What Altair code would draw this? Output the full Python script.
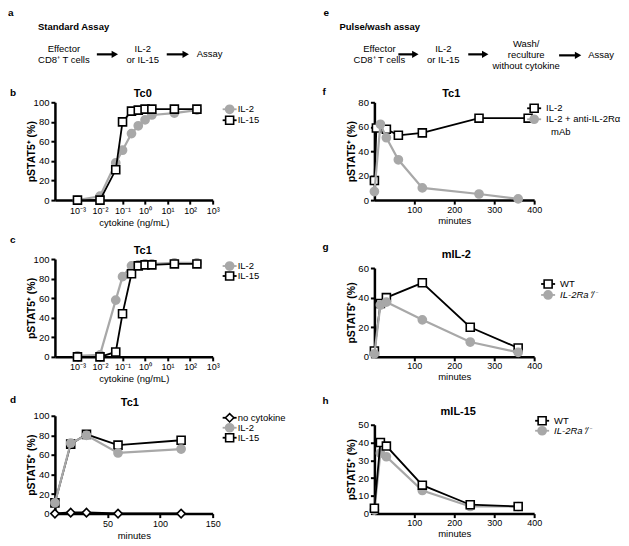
import altair as alt
import pandas as pd

FONT = "Liberation Sans"
GRAY = "#a8a8a8"

# ---------------- data ----------------
conc = [0.001, 0.01, 0.05, 0.1, 0.25, 0.5, 1, 2, 20, 200]
tc0_il2 = [0, 4, 38, 51, 68, 76, 82, 87, 89, 92]
tc0_il15 = [0, 0, 31, 80, 91, 92, 93, 93, 93, 93]
tc1_il2 = [1, 2, 58, 82, 93, 94, 95, 95, 96, 96]
tc1_il15 = [0, 0, 5, 44, 85, 93, 94, 94, 95, 95]

d_minutes = [0, 15, 30, 60, 120]
d_none = [0, 1, 1, 0, 0]
d_il2 = [11, 72, 80, 62, 66]
d_il15 = [11, 71, 81, 70, 75]

f_il2_min = [0, 5, 30, 60, 120, 262, 385]
f_il2 = [16, 59, 58, 53, 55, 67, 67]
f_mab_min = [0, 15, 30, 60, 120, 262, 360]
f_mab = [7, 62, 51, 33, 10, 5, 1]

gh_min = [0, 15, 30, 120, 240, 360]
g_wt = [4, 36, 40, 50, 20, 6]
g_het = [2, 35, 37, 25, 10, 3]
h_wt = [3, 40, 38, 16, 5, 4]
h_het = [2, 34, 32, 13, 4, 4]

decades = [0.001, 0.01, 0.1, 1, 10, 100, 1000]
min_ticks_d = [50, 100, 150]
min_ticks_r = [100, 200, 300, 400]

labels_cyt = ["IL-2", "IL-15"]
labels_d = ["no cytokine", "IL-2", "IL-15"]
labels_f = ["IL-2", "IL-2 + anti-IL-2Rα", "mAb"]
labels_gh = ["WT", "IL-2Ra⁺/⁻"]
ytitle = "pSTAT5⁺ (%)"

W_L, H_L = 158, 98
W_R, H_F, H_GH = 160, 98, 89

TXT = 9.5      # diagram / legend text
TTL = 11       # panel titles
LET = 10       # panel letters

LOG_LABEL = "'10' + (['⁻³','⁻²','⁻¹','⁰','¹','²','³'][round(log(datum.value)/LN10) + 3])"


# ---------------- helpers ----------------
def T(s, x, y, size=TXT, weight="normal", align="left", style="normal"):
    return alt.Chart().mark_text(
        text=s, align=align, baseline="middle", fontSize=size, fontWeight=weight,
        fontStyle=style, font=FONT, color="black"
    ).encode(x=alt.value(x), y=alt.value(y))


def arrow(x1, x2, y):
    shaft = alt.Chart().mark_rule(color="black", strokeWidth=2.2).encode(
        x=alt.value(x1), x2=alt.value(x2 - 5), y=alt.value(y))
    head = alt.Chart().mark_point(shape="triangle-right", filled=True, color="black",
                                  size=55, opacity=1).encode(
        x=alt.value(x2 - 4), y=alt.value(y))
    return [shaft, head]


def white_rule(x1, x2, y):
    return alt.Chart().mark_rule(color="white", strokeWidth=0.5).encode(
        x=alt.value(x1), x2=alt.value(x2), y=alt.value(y))


def point_mark(kind):
    if kind == "gray":
        return dict(shape="circle", filled=True, fill=GRAY, stroke=GRAY, size=60, opacity=1)
    if kind == "square":
        return dict(shape="square", filled=True, fill="white", stroke="black",
                    strokeWidth=1.6, size=64, opacity=1)
    return dict(shape="diamond", filled=True, fill="white", stroke="black",
                strokeWidth=1.6, size=70, opacity=1)


def series(xs, ys, kind, X, Y):
    df = pd.DataFrame({"x": xs, "y": ys})
    base = alt.Chart(df).encode(x=X, y=Y)
    if kind == "gray":
        line = base.mark_line(color=GRAY, strokeWidth=2.2)
    elif kind == "diamond":
        line = base.mark_line(color="black", strokeWidth=2.2)
    else:
        line = base.mark_line(color="black", strokeWidth=1.8)
    return [line, base.mark_point(**point_mark(kind))]


def legend_item(kind, x, y, label, tx, italic=False):
    col = GRAY if kind == "gray" else "black"
    stub = alt.Chart().mark_rule(color=col, strokeWidth=1.8).encode(
        x=alt.value(x - 7), x2=alt.value(x + 7), y=alt.value(y))
    pt = alt.Chart().mark_point(**point_mark(kind)).encode(x=alt.value(x), y=alt.value(y))
    return [stub, pt, T(label, tx, y, style="italic" if italic else "normal")]


def x_axis(title, values, label_expr=None, title_pad=2, label_pad=2):
    kw = dict(title=title, values=values, labelFlush=False, labelOverlap=False,
              titlePadding=title_pad, labelPadding=label_pad, titleFontWeight="normal",
              titleFontSize=9.5, labelFontSize=9)
    if label_expr:
        kw["labelExpr"] = label_expr
    return alt.Axis(**kw)


def y_axis(values, h):
    return alt.Axis(title=ytitle, values=values, titleX=-20, titleY=h / 2,
                    titleBaseline="alphabetic", titleFontWeight="bold", titleFontSize=10.5,
                    labelFontSize=9.5, labelPadding=2)


# ---------------- left column ----------------
X_log = alt.X("x:Q", scale=alt.Scale(type="log", domain=[1e-4, 1e3]),
              axis=x_axis("cytokine (ng/mL)", decades, LOG_LABEL))
Y100_L = alt.Y("y:Q", scale=alt.Scale(domain=[0, 100], nice=False),
               axis=y_axis([0, 20, 40, 60, 80, 100], H_L))

b_layers = [white_rule(0, 250, -92)]
b_layers += [T("a", -47, -89, size=LET, weight="bold"),
             T("Standard Assay", -17, -75, weight="bold"),
             T("Effector", 9, -53, align="center"),
             T("CD8⁺ T cells", 9, -42, align="center"),
             T("IL-2", 88, -53, align="center"),
             T("or IL-15", 88, -42, align="center"),
             T("Assay", 155, -48, align="center")]
b_layers += arrow(42, 64, -48) + arrow(112, 135, -48)
b_layers += series(conc, tc0_il2, "gray", X_log, Y100_L)
b_layers += series(conc, tc0_il15, "square", X_log, Y100_L)
b_layers += legend_item("gray", 175, 7, labels_cyt[0], 183)
b_layers += legend_item("square", 175, 18, labels_cyt[1], 183)
b_layers += [T("Tc0", 88, -8, size=TTL, weight="bold", align="center"),
             T("b", -45, -9, size=LET, weight="bold")]
panel_b = alt.layer(*b_layers).properties(width=W_L, height=H_L)

c_layers = []
c_layers += series(conc, tc1_il2, "gray", X_log, Y100_L)
c_layers += series(conc, tc1_il15, "square", X_log, Y100_L)
c_layers += legend_item("gray", 175, 7, labels_cyt[0], 183)
c_layers += legend_item("square", 175, 17, labels_cyt[1], 183)
c_layers += [T("Tc1", 88, -8, size=TTL, weight="bold", align="center"),
             T("c", -45, -19, size=LET, weight="bold")]
panel_c = alt.layer(*c_layers).properties(width=W_L, height=H_L)

X_d = alt.X("x:Q", scale=alt.Scale(domain=[0, 150], nice=False),
            axis=x_axis("minutes", min_ticks_d))
d_layers = []
d_layers += series(d_minutes, d_none, "diamond", X_d, Y100_L)
d_layers += series(d_minutes, d_il15, "square", X_d, Y100_L)
d_layers += series(d_minutes, d_il2, "gray", X_d, Y100_L)
d_layers += legend_item("diamond", 175, 2, labels_d[0], 183)
d_layers += legend_item("gray", 175, 12, labels_d[1], 183)
d_layers += legend_item("square", 175, 22, labels_d[2], 183)
d_layers += [T("Tc1", 75, -13, size=TTL, weight="bold", align="center"),
             T("d", -45, -16, size=LET, weight="bold")]
panel_d = alt.layer(*d_layers).properties(width=W_L, height=H_L)

left = alt.vconcat(panel_b, panel_c, panel_d, spacing=59, bounds="flush")

# ---------------- right column ----------------
X_r = alt.X("x:Q", scale=alt.Scale(domain=[0, 400], nice=False),
            axis=x_axis("minutes", min_ticks_r, title_pad=1, label_pad=1))
Y80 = alt.Y("y:Q", scale=alt.Scale(domain=[0, 80], nice=False),
            axis=y_axis([0, 20, 40, 60, 80], H_F))
Y60 = alt.Y("y:Q", scale=alt.Scale(domain=[0, 60], nice=False),
            axis=y_axis([0, 20, 40, 60], H_GH))
Y50 = alt.Y("y:Q", scale=alt.Scale(domain=[0, 50], nice=False),
            axis=y_axis([0, 10, 20, 30, 40, 50], H_GH))

f_layers = [white_rule(-60, 0, -92)]
f_layers += [T("e", -51, -89, size=LET, weight="bold"),
             T("Pulse/wash assay", -35, -75, weight="bold"),
             T("Effector", 5, -53, align="center"),
             T("CD8⁺ T cells", 5, -42, align="center"),
             T("IL-2", 69, -53, align="center"),
             T("or IL-15", 69, -42, align="center"),
             T("Wash/", 152, -58, align="center"),
             T("reculture", 152, -47, align="center"),
             T("without cytokine", 152, -36, align="center"),
             T("Assay", 227, -47, align="center")]
f_layers += arrow(24, 45, -48) + arrow(94, 115, -48) + arrow(185, 208, -47)
f_layers += series(f_il2_min, f_il2, "square", X_r, Y80)
f_layers += series(f_mab_min, f_mab, "gray", X_r, Y80)
f_layers += legend_item("square", 160, 6, labels_f[0], 172)
f_layers += legend_item("gray", 160, 17, labels_f[1], 172)
f_layers += [T(labels_f[2], 177, 30),
             T("Tc1", 77, -8, size=TTL, weight="bold", align="center"),
             T("f", -52, -10, size=LET, weight="bold")]
panel_f = alt.layer(*f_layers).properties(width=W_R, height=H_F)

g_layers = []
g_layers += series(gh_min, g_wt, "square", X_r, Y60)
g_layers += series(gh_min, g_het, "gray", X_r, Y60)
g_layers += legend_item("square", 174, 16, labels_gh[0], 186)
g_layers += legend_item("gray", 174, 27, labels_gh[1], 186, italic=True)
g_layers += [T("mIL-2", 82, -13, size=TTL, weight="bold", align="center"),
             T("g", -52, -21, size=LET, weight="bold")]
panel_g = alt.layer(*g_layers).properties(width=W_R, height=H_GH)

h_layers = []
h_layers += series(gh_min, h_het, "gray", X_r, Y50)
h_layers += series(gh_min, h_wt, "square", X_r, Y50)
h_layers += legend_item("square", 168, -4, labels_gh[0], 180)
h_layers += legend_item("gray", 168, 6, labels_gh[1], 180, italic=True)
h_layers += [T("mIL-15", 84, -13, size=TTL, weight="bold", align="center"),
             T("h", -52, -24, size=LET, weight="bold")]
panel_h = alt.layer(*h_layers).properties(width=W_R, height=H_GH)

right = alt.vconcat(panel_f, panel_g, panel_h, spacing=68, bounds="flush")

chart = alt.hconcat(left, right, spacing=8, bounds="full").properties(
    padding=0
).configure(font=FONT).configure_view(stroke=None).configure_axis(
    domainColor="black", domainWidth=2.5, tickColor="black", tickWidth=2, tickSize=4,
    labelColor="black", titleColor="black", grid=False, labelFont=FONT, titleFont=FONT
)

chart.save("out.html", embed_options={"renderer": "svg", "actions": False})
